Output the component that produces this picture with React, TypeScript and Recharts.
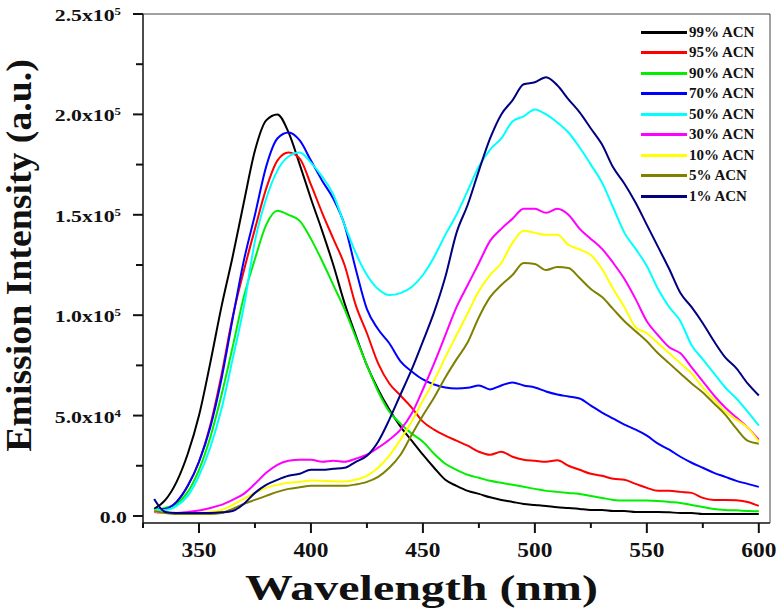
import { Legend, Line, LineChart, XAxis, YAxis } from "recharts"

// Emission spectra vs ACN fraction. Intensities are in units of 10^3 (a.u.).
const wavelengths = [
  330, 335, 340, 345, 350, 355, 360, 365, 370, 375, 380, 385, 390, 395, 400,
  405, 410, 415, 420, 425, 430, 435, 440, 445, 450, 455, 460, 465, 470, 475,
  480, 485, 490, 495, 500, 505, 510, 515, 520, 525, 530, 535, 540, 545, 550,
  555, 560, 565, 570, 575, 580, 585, 590, 595, 600,
]

const acn99 = [
  3.5, 8, 17, 31, 50, 76, 104, 129, 156, 182, 197, 200, 191, 175, 158,
  142, 125, 106, 90, 75, 63, 53, 44.5, 37.5, 30.5, 24, 18, 15, 12.5, 11,
  9.3, 8, 7, 6, 5.5, 5, 4.3, 4, 3.5, 3, 3, 2.5, 2.5, 2, 2,
  2, 1.8, 1.5, 1.5, 1, 1, 1, 1, 1, 1,
]
const acn95 = [
  3, 3.5, 7, 15, 27, 45, 70, 99, 122, 143, 163, 177, 181, 178, 165,
  151, 138, 125, 105, 91, 76, 66, 60, 54, 47, 43, 40, 37.5, 35, 32,
  30.5, 32, 29.5, 28, 27.5, 27, 27.7, 25, 23, 21, 20, 18.5, 18, 16, 14,
  12.5, 12.5, 12, 11.5, 9, 8, 8, 7.8, 7, 5,
]
const acn90 = [
  3, 4, 6, 12, 23, 39, 60, 84, 109, 128, 145, 152, 150, 147, 138,
  127, 115, 103, 89, 75, 62, 52, 46, 41, 37, 31, 26, 23, 20.5, 19,
  17.5, 16.5, 15.5, 14.5, 13.5, 12.5, 12, 11.5, 11, 10, 9, 8, 7.7, 7.7, 7.7,
  7.5, 7, 6.5, 5.5, 4.5, 3.5, 3, 2.8, 2.5, 2.3,
]
const acn70 = [
  3, 3.5, 7, 15, 27, 44, 68, 98, 127, 150, 174, 188, 191, 187, 177,
  167, 158, 145, 123, 103, 93, 86, 77, 72, 68, 65.5, 64, 63.5, 63.8, 65,
  63, 65, 66.5, 65, 64, 62, 60.5, 59.5, 58.5, 55, 51.5, 48.5, 45.5, 43, 40,
  36, 33, 29.5, 26.5, 24, 21.5, 19.5, 17.5, 16, 14.5,
]
const acn50 = [
  3, 3, 5, 10, 20, 34, 53, 78, 104, 137, 158, 172, 179, 181, 176,
  169, 160, 145, 131, 120, 113, 110, 111, 114, 120, 129, 140, 150, 162, 174,
  182.5, 188, 196.5, 199, 202.5, 200, 196, 191, 183.5, 175, 166, 153.5, 141, 133, 124.5,
  113, 104, 97, 85, 78, 71, 64, 58.5, 52, 45,
]
const acn30 = [
  2, 1.5, 1.5, 2, 2.7, 4, 5.5, 8, 11, 16, 21.5, 25.5, 27.5, 28, 28,
  27, 27.5, 27, 28.5, 30.5, 34, 38, 43, 51, 63, 76, 90, 104, 115, 126,
  137, 143, 148, 153, 153, 151, 153, 150, 143, 138, 133, 126, 118, 108, 97,
  90, 84, 81, 74, 67, 60, 54, 49, 44, 38,
]
const acn10 = [
  2.5, 1.5, 1.5, 1.5, 1.5, 2, 3, 5.5, 8.5, 11.5, 14, 15.5, 16.5, 17, 17.7,
  17.5, 17.3, 17.2, 18, 20, 24, 30, 38, 47, 57.5, 67.5, 79, 90, 101, 112,
  120, 126, 136, 142, 141, 140, 140, 135, 132.7, 130, 123, 113, 104, 94, 91,
  86, 81, 76, 71, 64, 58, 52, 48, 44, 37,
]
const acn5 = [
  2.5, 1.5, 1, 1, 1, 1, 1.5, 3.5, 6, 8, 10, 12, 13.5, 14.3, 15,
  15, 15, 15, 15.7, 17, 19.5, 24, 30.5, 40.5, 50, 59, 69, 78, 86.5, 99,
  109, 115, 120, 126, 125.5, 122.5, 124, 123.5, 118.5, 113, 109, 103, 97, 92, 87,
  81, 76, 71, 66, 61.5, 56, 50.5, 43.5, 37.5, 36,
]
const acn1 = [
  8.5, 2, 1.5, 1.5, 1.5, 1.5, 1.8, 2.5, 6, 11.5, 15.5, 18, 20, 21, 23,
  23, 23.5, 24, 27, 30, 37, 48, 60.5, 73, 87, 101.5, 119, 141, 155, 172,
  188, 200, 207, 215, 216, 218.5, 214.5, 207.5, 201, 193, 185, 173.5, 165.5, 156, 145,
  134, 123, 111, 104, 96, 87, 79, 73.5, 66, 60,
]

const seriesNames = [
  "99% ACN", "95% ACN", "90% ACN", "70% ACN", "50% ACN",
  "30% ACN", "10% ACN", "5% ACN", "1% ACN",
]
const seriesColors = [
  "#000000", "#ff0000", "#00ee00", "#0000ff", "#00ffff",
  "#ff00ff", "#ffff00", "#808000", "#000080",
]
const seriesValues = [acn99, acn95, acn90, acn70, acn50, acn30, acn10, acn5, acn1]

const xTicks = [325, 350, 375, 400, 425, 450, 475, 500, 525, 550, 575, 600]
const yTicks = [0, 25, 50, 75, 100, 125, 150, 175, 200, 225, 250]
const yTickLabels: Record<number, [string, string]> = {
  0: ["0.0", ""],
  50: ["5.0x10", "4"],
  100: ["1.0x10", "5"],
  150: ["1.5x10", "5"],
  200: ["2.0x10", "5"],
  250: ["2.5x10", "5"],
}

const data = wavelengths.map((wl, i) => {
  const row: Record<string, number> = { wl }
  seriesValues.forEach((vals, s) => {
    row[`s${s}`] = vals[i]
  })
  return row
})

const SERIF = '"Liberation Serif", "Times New Roman", serif'
const INK = "#111"
const TICK = 10

// recharts draws the tick marks; minor ones get their outer half masked
function XTick({ x, y, payload }: any) {
  const v = payload.value
  const major = v % 50 === 0
  if (!major) {
    return <rect x={x - 2} y={y - TICK / 2} width={4} height={TICK / 2 + 1} fill="#fff" />
  }
  return (
    <text
      transform={`translate(${x},${y + 24}) scale(1.17,1)`}
      textAnchor="middle"
      fontFamily={SERIF}
      fontWeight="bold"
      fontSize={20}
      fill={INK}
    >
      {v}
    </text>
  )
}

function YTick({ x, y, payload }: any) {
  const v = payload.value
  const major = v % 50 === 0
  const lab = yTickLabels[v]
  if (!major || !lab) {
    return <rect x={x - 1} y={y - 2} width={TICK / 2 - 1} height={4} fill="#fff" />
  }
  return (
    <text
      transform={`translate(${x + TICK - (lab[1] ? 22 : 16)},${y + 7}) scale(1.28,1)`}
      textAnchor="end"
      fontFamily={SERIF}
      fontWeight="bold"
      fontSize={17}
      fill={INK}
    >
      {lab[0]}
      {lab[1] && (
        <tspan dy={-6} fontSize={10}>
          {lab[1]}
        </tspan>
      )}
    </text>
  )
}

function XTitle({ viewBox }: any) {
  const cx = viewBox.x + viewBox.width / 2 - 35
  return (
    <text
      transform={`translate(${cx},${viewBox.y + 77}) scale(1.37,1)`}
      textAnchor="middle"
      fontFamily={SERIF}
      fontWeight="bold"
      fontSize={35}
      fill={INK}
    >
      Wavelength (nm)
    </text>
  )
}

function YTitle({ viewBox }: any) {
  const cy = viewBox.y + viewBox.height / 2 - 13
  return (
    <text
      transform={`translate(31,${cy}) rotate(-90) scale(1.08,1)`}
      textAnchor="middle"
      fontFamily={SERIF}
      fontWeight="bold"
      fontSize={35}
      fill={INK}
    >
      Emission Intensity (a.u.)
    </text>
  )
}

function LegendBox() {
  return (
    <div style={{ fontFamily: SERIF, fontWeight: "bold", fontSize: 15, color: INK }}>
      {seriesNames.map((name, i) => (
        <div key={name} style={{ display: "flex", alignItems: "center", height: 20.5 }}>
          <span style={{ width: 46, height: 3, background: seriesColors[i], marginRight: 2 }} />
          <span>{name}</span>
        </div>
      ))}
    </div>
  )
}

export default function App() {
  return (
    <div style={{ position: "absolute", left: 0, top: 0, background: "#fff" }}>
      <LineChart
        width={778}
        height={614}
        data={data}
        margin={{ top: 0, right: 0, bottom: 0, left: 0 }}
      >
        <XAxis
          dataKey="wl"
          type="number"
          domain={[325, 605]}
          ticks={xTicks}
          interval={0}
          height={91}
          tickSize={TICK}
          tickMargin={0}
          tickLine={{ stroke: INK, strokeWidth: 2 }}
          tick={<XTick />}
          stroke={INK}
          strokeWidth={1.5}
          label={{ content: (p: any) => <XTitle {...p} /> }}
        />
        <XAxis
          xAxisId="top"
          orientation="top"
          dataKey="wl"
          type="number"
          domain={[325, 605]}
          height={14}
          tick={false}
          tickLine={false}
          stroke="#444"
        />
        <YAxis
          type="number"
          domain={[-3.5, 250]}
          ticks={yTicks}
          interval={0}
          width={143}
          tickSize={TICK}
          tickMargin={0}
          tickLine={{ stroke: INK, strokeWidth: 2 }}
          tick={<YTick />}
          stroke={INK}
          strokeWidth={1.5}
          label={{ content: (p: any) => <YTitle {...p} /> }}
        />
        <YAxis
          yAxisId="right"
          orientation="right"
          type="number"
          domain={[-3.5, 250]}
          width={8}
          tick={false}
          tickLine={false}
          stroke="#444"
        />
        <Legend
          layout="vertical"
          align="center"
          verticalAlign="middle"
          content={() => <LegendBox />}
          wrapperStyle={{ left: 641, top: 22, width: 135 }}
        />
        {seriesNames.map((name, s) => (
          <Line
            key={name}
            name={name}
            dataKey={`s${s}`}
            type="monotone"
            stroke={seriesColors[s]}
            strokeWidth={2}
            dot={false}
            isAnimationActive={false}
          />
        ))}
      </LineChart>
    </div>
  )
}
